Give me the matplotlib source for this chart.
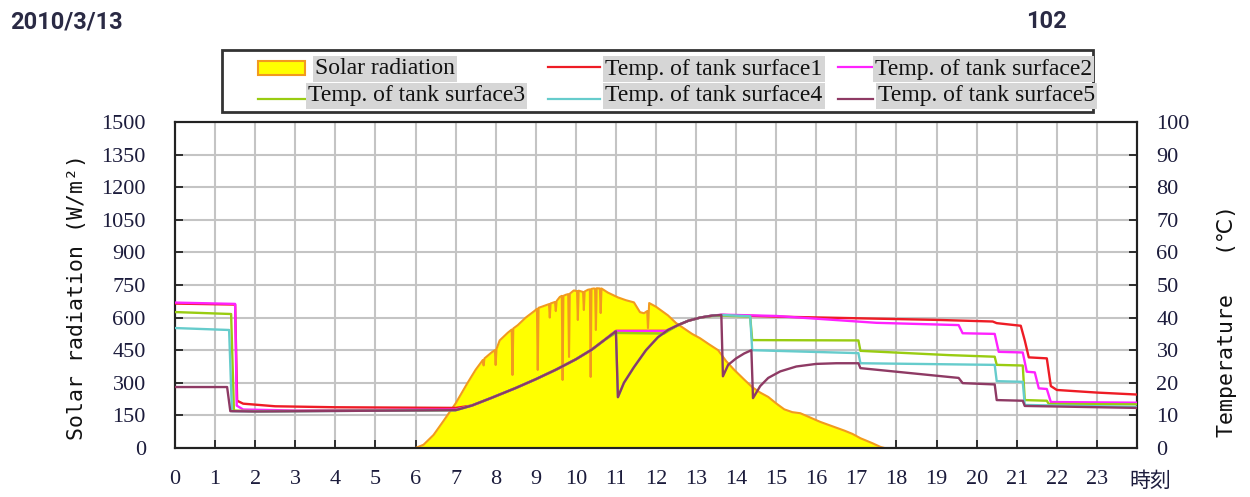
import matplotlib
matplotlib.use("Agg")
import matplotlib.pyplot as plt
from matplotlib.patches import Rectangle
from matplotlib.lines import Line2D

# ---------------- data ----------------
x_ticks = list(range(0, 24))
rad_ticks = [0, 150, 300, 450, 600, 750, 900, 1050, 1200, 1350, 1500]
temp_ticks = [0, 10, 20, 30, 40, 50, 60, 70, 80, 90, 100]

solar_hours = [6.0, 6.2, 6.45, 6.7, 7.0, 7.3, 7.5, 7.68, 7.7, 7.72, 7.9, 7.98, 8.0, 8.02, 8.1, 8.3,
               8.4, 8.42, 8.44, 8.55, 8.75, 8.95, 9.03, 9.05, 9.07, 9.15, 9.33, 9.35, 9.37,
               9.48, 9.5, 9.52, 9.6,
               9.65, 9.67, 9.69, 9.75, 9.81, 9.83, 9.85, 9.95, 10.03, 10.05, 10.07,
               10.18, 10.2, 10.22, 10.3, 10.35, 10.37, 10.39, 10.45, 10.48, 10.5, 10.52,
               10.6, 10.62, 10.64, 10.8, 11.05, 11.25, 11.45, 11.6, 11.7, 11.78,
               11.8, 11.83, 11.9, 12.0, 12.3, 12.5, 12.7, 12.9, 13.1, 13.3, 13.55,
               13.75, 13.95, 14.2, 14.4, 14.6, 14.8, 15.0, 15.2, 15.4, 15.6, 15.85,
               16.1, 16.4, 16.7, 16.9, 17.1, 17.4, 17.6, 17.7]
solar_values = [0, 15, 60, 125, 205, 300, 360, 405, 380, 412, 440, 450, 382, 455, 495, 530,
                545, 336, 550, 565, 600, 628, 640, 359, 645, 650, 662, 600, 665,
                672, 630, 676, 695,
                700, 313, 700, 705, 708, 419, 710, 725, 722, 589, 724,
                718, 635, 720, 728, 730, 327, 732, 734, 733, 543, 735,
                734, 621, 734, 715, 693, 680, 670, 625, 620, 630,
                552, 667, 660, 650, 610, 575, 550, 525, 505, 480, 450,
                400, 360, 315, 280, 255, 235, 205, 178, 165, 160, 140,
                120, 100, 80, 65, 45, 22, 5, 0]

t1_hours = [0, 1.5, 1.55, 1.7, 2.5, 4.0, 7.0, 7.4, 7.9, 8.5, 9.0, 9.5, 10.0, 10.4, 10.7,
            11.0, 12.25, 12.55, 12.8, 13.1, 13.4, 13.65, 15.0, 17.0, 19.0, 20.4, 20.5,
            21.1, 21.2, 21.3, 21.75, 21.85, 22.0, 23.0, 24.0]
t1_temps = [44.3, 44.0, 14.5, 13.6, 12.8, 12.5, 12.3, 13.0, 15.4, 18.4, 21.1, 24.0, 27.2,
            30.2, 33.0, 35.9, 35.9, 37.7, 39.0, 40.0, 40.6, 40.8, 40.3, 39.8, 39.3,
            38.8, 38.3, 37.5, 33.0, 27.8, 27.5, 19.0, 17.8, 17.0, 16.4]

t2_hours = [0, 1.5, 1.54, 1.7, 3.0, 7.0, 7.4, 7.9, 8.5, 9.0, 9.5, 10.0, 10.4, 10.7, 11.0,
            12.25, 12.55, 12.8, 13.1, 13.4, 13.65, 15.0, 17.5, 19.55, 19.65, 20.45,
            20.55, 21.15, 21.25, 21.45, 21.55, 21.75, 21.85, 24.0]
t2_temps = [44.6, 44.2, 13.0, 11.8, 11.5, 11.8, 13.0, 15.4, 18.4, 21.1, 24.0, 27.2, 30.2,
            33.0, 35.9, 35.9, 37.7, 39.0, 40.0, 40.6, 40.9, 40.5, 38.4, 37.7, 35.2,
            35.0, 29.5, 29.3, 23.4, 23.2, 18.3, 18.1, 14.1, 13.9]

t3_hours = [0, 1.4, 1.47, 2.0, 7.0, 7.4, 7.9, 8.5, 9.0, 9.5, 10.0, 10.4, 10.7, 11.0, 12.2,
            12.55, 12.8, 13.1, 13.4, 13.65, 14.35, 14.4, 17.05, 17.1, 19.3, 20.45, 20.5,
            21.15, 21.2, 21.75, 21.8, 24.0]
t3_temps = [41.7, 41.1, 11.5, 11.3, 11.6, 13.0, 15.4, 18.4, 21.1, 24.0, 27.2, 30.2, 33.0,
            35.3, 35.1, 37.7, 39.0, 40.0, 40.5, 40.6, 40.3, 33.1, 33.0, 29.8, 28.5,
            28.0, 25.5, 25.3, 14.7, 14.5, 13.5, 13.4]

t4_hours = [0, 1.35, 1.42, 2.0, 7.0, 7.4, 7.9, 8.5, 9.0, 9.5, 10.0, 10.4, 10.7, 11.0, 11.05,
            11.2, 11.45, 11.75, 12.05, 12.3, 12.55, 12.8, 13.1, 13.4, 13.65, 14.35, 14.4,
            17.05, 17.1, 20.45, 20.5, 21.15, 21.2, 24.0]
t4_temps = [36.8, 36.2, 11.3, 11.2, 11.6, 13.0, 15.4, 18.4, 21.1, 24.0, 27.2, 30.2, 33.0,
            35.8, 15.6, 20.0, 24.8, 30.0, 34.0, 36.2, 37.7, 39.0, 40.0, 40.6, 40.8, 40.4,
            30.0, 29.1, 26.0, 25.5, 20.5, 20.3, 13.2, 12.6]

t5_hours = [0, 1.3, 1.38, 2.0, 7.0, 7.4, 7.9, 8.5, 9.0, 9.5, 10.0, 10.4, 10.7, 11.0, 11.05,
            11.2, 11.45, 11.75, 12.05, 12.3, 12.55, 12.8, 13.1, 13.4, 13.63, 13.67, 13.8,
            14.0, 14.2, 14.38, 14.42, 14.6, 14.8, 15.1, 15.5, 16.0, 16.5, 17.05, 17.1,
            19.3, 19.55, 19.65, 20.45, 20.5, 21.15, 21.2, 24.0]
t5_temps = [18.7, 18.7, 11.3, 11.2, 11.6, 13.0, 15.4, 18.4, 21.1, 24.0, 27.2, 30.2, 33.0,
            35.8, 15.6, 20.0, 24.8, 30.0, 34.0, 36.2, 37.7, 39.0, 40.0, 40.6, 40.8, 22.0,
            25.5, 27.5, 29.0, 30.0, 15.3, 19.0, 21.5, 23.5, 25.0, 25.8, 26.0, 26.0, 24.5,
            21.8, 21.5, 19.9, 19.5, 14.7, 14.5, 12.9, 12.3]

series_names = ["Temp. of tank surface1", "Temp. of tank surface2", "Temp. of tank surface3",
                "Temp. of tank surface4", "Temp. of tank surface5"]
series_colors = ["#ee1c25", "#ff22ff", "#99cc11", "#66cccc", "#8e3a64"]

# ---------------- figure ----------------
fig = plt.figure(figsize=(12.5, 4.97), dpi=100)
ax = fig.add_axes([175/1250, 1-448/497, (1137-175)/1250, (448-122)/497])
ax2 = ax.twinx()

serif = ["Liberation Serif", "DejaVu Serif"]
mono = ["DejaVu Sans Mono", "DejaVu Sans", "Noto Sans CJK JP"]
tick_color = "#1c1c3c"

ax.fill_between(solar_hours, solar_values, 0, color="#ffff00", lw=0, zorder=2)
ax.plot(solar_hours, solar_values, color="#f29a1e", lw=1.5, zorder=3)

all_h = [t1_hours, t2_hours, t3_hours, t4_hours, t5_hours]
all_t = [t1_temps, t2_temps, t3_temps, t4_temps, t5_temps]
for h, t, c in zip(all_h, all_t, series_colors):
    ax2.plot(h, t, color=c, lw=1.7, zorder=4)

ax.set_xlim(0, 24)
ax.set_ylim(0, 1500)
ax2.set_ylim(0, 100)
ax.set_xticks(x_ticks)
ax.set_xticklabels([str(v) for v in x_ticks])
ax.set_yticks(rad_ticks)
ax.set_yticklabels([str(v) for v in rad_ticks])
ax2.set_yticks(temp_ticks)
ax2.set_yticklabels([str(v) for v in temp_ticks])

ax.grid(True, color="#c4c4c4", lw=1.5, zorder=0)
ax.set_axisbelow(True)
for a in (ax, ax2):
    for s in a.spines.values():
        s.set_linewidth(1.5)
        s.set_color("#222222")
ax.tick_params(axis="both", direction="in", length=6, width=1.3, colors="#222222",
               labelcolor=tick_color, labelsize=16)
ax.tick_params(axis="y", pad=21)
ax.tick_params(axis="x", pad=16)
ax2.tick_params(axis="y", direction="in", length=6, width=1.3, colors="#222222",
                labelcolor=tick_color, labelsize=16, pad=14)
for lab in ax.get_xticklabels() + ax.get_yticklabels() + ax2.get_yticklabels():
    lab.set_fontfamily(serif)

fig.text(1150/1250, 1-481/497, "時刻", fontsize=15, family=["Noto Sans CJK JP"],
         color=tick_color, ha="center", va="center")

fig.text(77/1250, 1-297/497, "Solar radiation (W/m²)", rotation=90, fontsize=15.5,
         family=mono, ha="center", va="center", color="#111111")
fig.text(1227/1250, 1-321/497, "Temperature   (℃)", rotation=90, fontsize=15.5,
         family=mono, ha="center", va="center", color="#111111")

fig.text(10/1250, 1-22/497, "2010/3/13", fontsize=17, fontweight="bold",
         family=["Roboto", "DejaVu Sans"], color="#2a2a44",
         ha="left", va="center")
fig.text(1067/1250, 1-22/497, "102", fontsize=17, fontweight="bold",
         family=["Roboto", "DejaVu Sans"], color="#2a2a44",
         ha="right", va="center")

# ---------------- legend ----------------
def fx(px):
    return px / 1250

def fy(py):
    return 1 - py / 497

fig.add_artist(Rectangle((fx(222), fy(112)), fx(1093) - fx(222), fy(50) - fy(112),
                         transform=fig.transFigure, fill=False, lw=2, ec="#333333"))
fig.add_artist(Rectangle((fx(258), fy(75)), fx(305) - fx(258), fy(61) - fy(75),
                         transform=fig.transFigure, fc="#ffff00", ec="#f29a1e", lw=1.5))
legend_items = [
    (None, "Solar radiation", 315, 69),
    ((548, 600, 67), series_names[0], 605, 69),
    ((838, 873, 67), series_names[1], 875, 69),
    ((258, 305, 99), series_names[2], 308, 96),
    ((548, 600, 99), series_names[3], 605, 96),
    ((838, 873, 99), series_names[4], 878, 96),
]
line_cols = [None] + series_colors
for (seg, label, tx, ty), c in zip(legend_items, line_cols):
    if seg is not None:
        fig.add_artist(Line2D([fx(seg[0]), fx(seg[1])], [fy(seg[2]), fy(seg[2])],
                              transform=fig.transFigure, color=c, lw=1.6))
    fig.text(fx(tx), fy(ty), label, fontsize=17, family=serif, color="#111111",
             ha="left", va="center",
             bbox=dict(boxstyle="square,pad=0.1", fc="#d6d6d6", ec="none"))

fig.savefig("out.png", dpi=100)
